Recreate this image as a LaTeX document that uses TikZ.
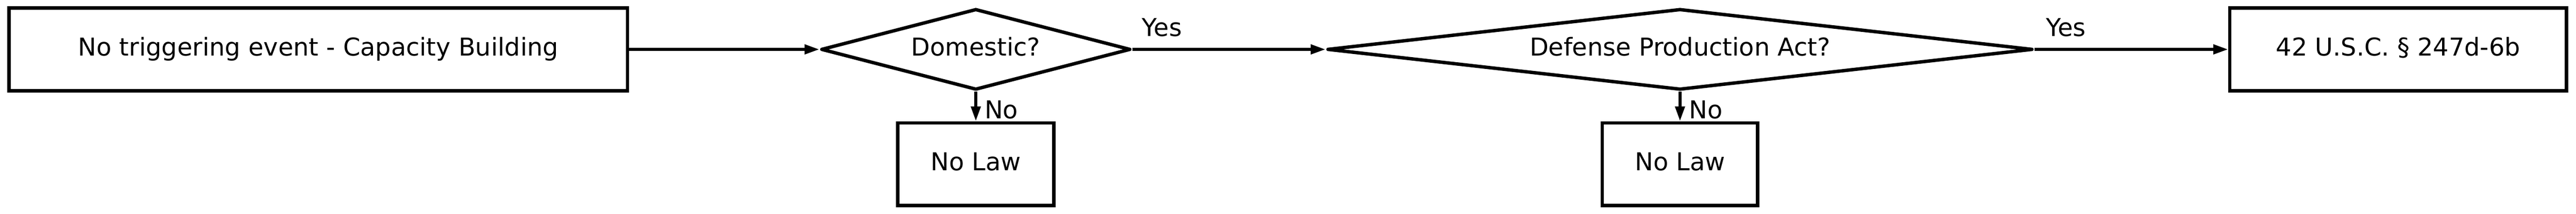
\documentclass[tikz,border=0pt]{standalone}
\usepackage{fontspec}
\setmainfont{DejaVu Sans}
\usepackage{tikz}
\usetikzlibrary{shapes.geometric,arrows.meta}

\tikzset{
	lawbox/.style={draw=black, line width=0.08cm, minimum height=1.95cm, inner sep=0pt, text height=0.44cm, text depth=0.14cm},
	query/.style={draw=black, diamond, line width=0.08cm, line join=round, minimum height=1.91cm, inner sep=0pt, text height=0.44cm, text depth=0.14cm},
	flow/.style={line width=0.075cm, -{Triangle[length=0.35cm,width=0.22cm]}},
	answer/.style={inner sep=0pt, anchor=base west}
}

\begin{document}
\begin{tikzpicture}[font=\fontsize{16.5}{20}\selectfont]
	\useasboundingbox (0,0) rectangle (60.69,-5.04);
	% \draw[help lines] (0,0) grid (61,-5);
	% start
	\node[lawbox, minimum width=14.57cm] (capacity) at (7.50,-1.165) {No triggering event - Capacity Building};
	% questions
	\node[query, aspect=3.8, minimum width=7.29cm] (domestic) at (22.99,-1.165) {Domestic?};
	\node[query, aspect=8.7, minimum width=16.62cm] (dpa) at (39.58,-1.165) {Defense Production Act?};
	% outcomes
	\node[lawbox, minimum width=7.93cm] (usc) at (56.50,-1.165) {42 U.S.C. § 247d-6b};
	\node[lawbox, minimum width=3.68cm] (nolawa) at (22.99,-3.875) {No Law};
	\node[lawbox, minimum width=3.66cm] (nolawb) at (39.58,-3.875) {No Law};
	% -
	\draw[flow] (capacity.east) -- (domestic.west);
	\draw[flow] (domestic.east) -- (dpa.west);
	\draw[flow] (dpa.east) -- (usc.west);
	% |
	\draw[flow] (domestic.south) -- (nolawa.north);
	\draw[flow] (dpa.south) -- (nolawb.north);
	% label
	\node[answer] (yesa) at (26.90,-0.86) {Yes};
	\node[answer] (yesb) at (48.20,-0.86) {Yes};
	\node[answer] (noa) at (23.19,-2.795) {No};
	\node[answer] (nob) at (39.79,-2.795) {No};
\end{tikzpicture}
\end{document}
